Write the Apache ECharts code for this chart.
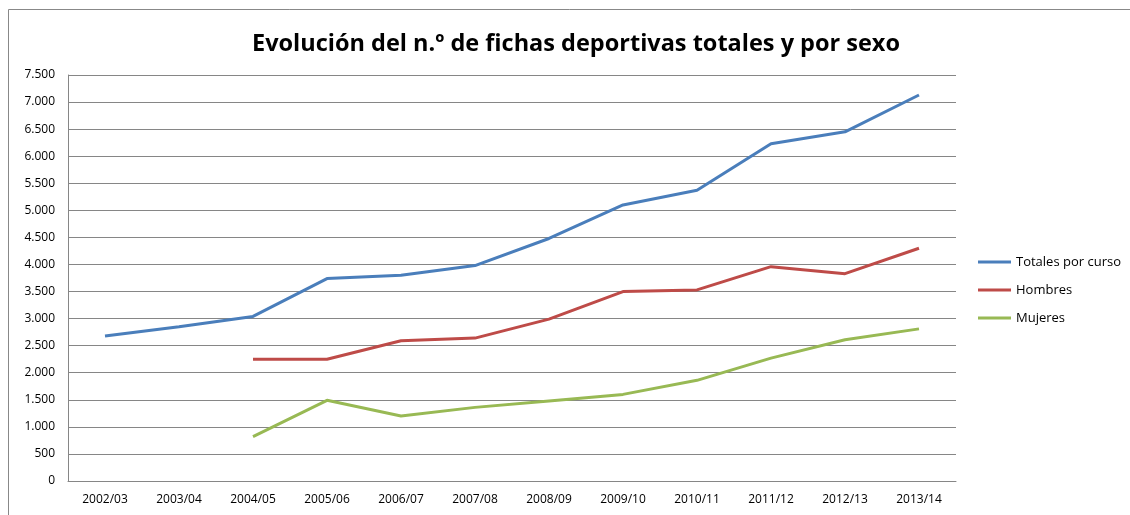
<!DOCTYPE html>
<html>
<head>
<meta charset="utf-8">
<script src="https://cdn.jsdelivr.net/npm/echarts@6/dist/echarts.min.js"></script>
<style>html,body{margin:0;padding:0;background:#fff}#c{width:1130px;height:515px}</style>
</head>
<body>
<div id="c"></div>
<script>
const categories = ['2002/03','2003/04','2004/05','2005/06','2006/07','2007/08','2008/09','2009/10','2010/11','2011/12','2012/13','2013/14'];
const totales = [2680, 2850, 3040, 3740, 3800, 3980, 4480, 5100, 5370, 6230, 6450, 7130];
const hombres = [null, null, 2250, 2250, 2590, 2640, 2990, 3500, 3530, 3960, 3830, 4300];
const mujeres = [null, null, 820, 1490, 1200, 1360, 1480, 1600, 1860, 2270, 2610, 2810];
const seriesNames = ['Totales por curso', 'Hombres', 'Mujeres'];

const chart = echarts.init(document.getElementById('c'));
const font = 'Open Sans';
function fmt(v){ return String(v).replace(/\B(?=(\d{3})+(?!\d))/g, '.'); }
chart.setOption({
  animation: false,
  title: {
    text: 'Evolución del n.º de fichas deportivas totales y por sexo',
    left: 571, top: 27, textAlign: 'center',
    textStyle: { fontFamily: font, fontWeight: 'bold', fontSize: 23.5, color: '#000' }
  },
  graphic: [{
    type: 'rect', shape: { x: 8.5, y: 9.5, width: 1200, height: 600 },
    style: { fill: 'none', stroke: '#888', lineWidth: 1 }, silent: true, z: -1
  }],
  legend: {
    orient: 'vertical', left: 973, top: 247,
    itemWidth: 33, itemHeight: 3, itemGap: 8,
    icon: 'rect',
    textStyle: { fontFamily: font, fontSize: 13, color: '#000', lineHeight: 20 },
    data: seriesNames
  },
  grid: { left: 68, top: 75, right: 174, bottom: 34, containLabel: false },
  xAxis: {
    type: 'category', data: categories, boundaryGap: true,
    axisLine: { lineStyle: { color: '#868686', width: 1 } },
    axisTick: { show: false },
    axisLabel: { fontFamily: font, fontSize: 12, color: '#000', margin: 13 }
  },
  yAxis: {
    type: 'value', min: 0, max: 7500, interval: 500,
    axisLine: { show: true, lineStyle: { color: '#868686', width: 1 } },
    axisTick: { show: false },
    splitLine: { lineStyle: { color: '#868686', width: 1 } },
    axisLabel: { fontFamily: font, fontSize: 12, color: '#000', margin: 13, formatter: fmt }
  },
  series: [
    { name: seriesNames[0], type: 'line', data: totales, symbol: 'none', lineStyle: { width: 3, color: '#4A7EBB' }, itemStyle: { color: '#4A7EBB' } },
    { name: seriesNames[1], type: 'line', data: hombres, symbol: 'none', lineStyle: { width: 3, color: '#BE4B48' }, itemStyle: { color: '#BE4B48' } },
    { name: seriesNames[2], type: 'line', data: mujeres, symbol: 'none', lineStyle: { width: 3, color: '#98B954' }, itemStyle: { color: '#98B954' } }
  ]
});
</script>
</body>
</html>
